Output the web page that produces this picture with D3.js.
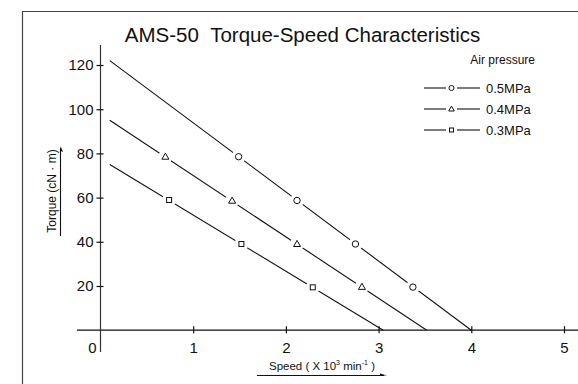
<!DOCTYPE html>
<html><head><meta charset="utf-8">
<script src="https://cdn.jsdelivr.net/npm/d3@7/dist/d3.min.js"></script>
<style>body{margin:0;background:#fff}svg{display:block;font-family:"Liberation Sans",Arial,Helvetica,sans-serif}text{white-space:pre}</style>
</head><body><svg id="c" width="578" height="384"></svg>
<script>
const seriesNames = ["0.5MPa", "0.4MPa", "0.3MPa"];
const seriesSymbols = ["circle", "triangle", "square"];
const lineSpeed = [[0.1, 4.0], [0.1, 3.52], [0.1, 3.05]];
const lineTorque = [[122, 0], [95, 0], [75, 0]];
const markerSpeed = [[1.49, 2.12, 2.75, 3.37], [0.70, 1.42, 2.12, 2.82], [0.74, 1.52, 2.29]];
const markerTorque = [[78.5, 58.7, 39.0, 19.5], [78.5, 58.6, 39.0, 19.6], [58.9, 39.0, 19.4]];
const xTicks = [0, 1, 2, 3, 4, 5];
const yTicks = [20, 40, 60, 80, 100, 120];

const svg = d3.select("#c");
const x = d3.scaleLinear().domain([0, 5]).range([100.5, 564]);
const y = d3.scaleLinear().domain([0, 120]).range([330.2, 65]);

// frame
svg.append("path").attr("d", "M22.5,384V11.5H578").attr("fill", "none").attr("stroke", "#444").attr("stroke-width", 1.2);

// title
svg.append("text").attr("x", 302.5).attr("y", 42).attr("text-anchor", "middle")
  .attr("font-size", 20.5).attr("fill", "#111").text("AMS-50\u00a0\u00a0Torque-Speed Characteristics");

// axes lines
svg.append("line").attr("x1", 77).attr("x2", 578).attr("y1", y(0)).attr("y2", y(0)).attr("stroke", "#111").attr("stroke-width", 1.2);
svg.append("line").attr("x1", x(0)).attr("x2", x(0)).attr("y1", 45).attr("y2", 352).attr("stroke", "#333").attr("stroke-width", 1.2);

// x axis ticks via d3 axis
const xa = svg.append("g").attr("transform", `translate(0,${y(0)})`)
  .call(d3.axisBottom(x).tickValues(xTicks).tickSize(4).tickPadding(8).tickFormat(d3.format("d")));
xa.select(".domain").remove();
xa.selectAll(".tick line").attr("y1", -4).attr("y2", 3).attr("stroke", "#111").attr("stroke-width", 1.2);
xa.selectAll(".tick").filter(d => d === 0).select("line").remove();
xa.selectAll(".tick").filter(d => d === 0).select("text").attr("text-anchor", "end").attr("x", -4.5);
xa.selectAll(".tick text").attr("font-size", 15).attr("font-family", "Liberation Sans, Arial, sans-serif").attr("fill", "#111").attr("dy", "0.71em");

// y axis ticks
const ya = svg.append("g").attr("transform", `translate(${x(0)},0)`)
  .call(d3.axisLeft(y).tickValues(yTicks).tickSize(4).tickPadding(3).tickFormat(d3.format("d")));
ya.select(".domain").remove();
ya.selectAll(".tick line").attr("x1", -4).attr("x2", 3).attr("stroke", "#111").attr("stroke-width", 1.2);
ya.selectAll(".tick text").attr("font-size", 15).attr("font-family", "Liberation Sans, Arial, sans-serif").attr("fill", "#111").attr("x", -7);

// symbols
function drawSymbol(g, type, cx, cy, s) {
  s = s || 1;
  if (type === "circle") {
    g.append("circle").attr("cx", cx).attr("cy", cy).attr("r", 3.2 * s).attr("fill", "#fff").attr("stroke", "#111").attr("stroke-width", 1);
  } else if (type === "triangle") {
    g.append("path").attr("d", `M${cx},${cy - 3.6 * s}L${cx + 3.5 * s},${cy + 2.5 * s}L${cx - 3.5 * s},${cy + 2.5 * s}Z`).attr("fill", "#fff").attr("stroke", "#111").attr("stroke-width", 1);
  } else {
    g.append("rect").attr("x", cx - 2.5 * s).attr("y", cy - 2.5 * s).attr("width", 5 * s).attr("height", 5 * s).attr("fill", "#fff").attr("stroke", "#111").attr("stroke-width", 1);
  }
}

const line = d3.line().x(d => x(d[0])).y(d => y(d[1]));
seriesNames.forEach((name, i) => {
  const g = svg.append("g");
  const pts = lineSpeed[i].map((s, j) => [s, lineTorque[i][j]]);
  g.append("path").attr("d", line(pts)).attr("fill", "none").attr("stroke", "#111").attr("stroke-width", 1.1);
  markerSpeed[i].forEach((s, j) => {
    const cx = x(s), cy = y(markerTorque[i][j]);
    g.append("circle").attr("cx", cx).attr("cy", cy).attr("r", 7).attr("fill", "#fff");
    drawSymbol(g, seriesSymbols[i], cx, cy);
  });
});

// legend
svg.append("text").attr("x", 535).attr("y", 64).attr("text-anchor", "end").attr("font-size", 12).attr("fill", "#111").text("Air pressure");
seriesNames.forEach((name, i) => {
  const ly = 88 + i * 21;
  const g = svg.append("g");
  g.append("line").attr("x1", 424).attr("x2", 446).attr("y1", ly).attr("y2", ly).attr("stroke", "#111").attr("stroke-width", 1.1);
  g.append("line").attr("x1", 457).attr("x2", 480).attr("y1", ly).attr("y2", ly).attr("stroke", "#111").attr("stroke-width", 1.1);
  drawSymbol(g, seriesSymbols[i], 451.5, ly, 0.8);
  g.append("text").attr("x", 486).attr("y", ly + 4.5).attr("font-size", 13).attr("fill", "#111").text(name);
});

// y label
const yl = svg.append("text").attr("transform", "translate(56,191) rotate(-90)").attr("text-anchor", "middle")
  .attr("font-size", 12).attr("fill", "#111");
yl.text("Torque (cN · m)");
svg.append("line").attr("x1", 60.5).attr("x2", 60.5).attr("y1", 236).attr("y2", 148).attr("stroke", "#111").attr("stroke-width", 1.1);
svg.append("path").attr("d", "M60.5,146L63,152L60.5,151Z").attr("fill", "#111");

// x label
const xl = svg.append("text").attr("x", 322).attr("y", 369.5).attr("text-anchor", "middle").attr("font-size", 11.5).attr("fill", "#111");
xl.append("tspan").text("Speed ( X 10");
xl.append("tspan").attr("font-size", 7).attr("dy", -5).text("3");
xl.append("tspan").attr("dy", 5).text(" min");
xl.append("tspan").attr("font-size", 7).attr("dy", -5).text("-1");
xl.append("tspan").attr("dy", 5).text(" )");
svg.append("line").attr("x1", 257).attr("x2", 384).attr("y1", 375.5).attr("y2", 375.5).attr("stroke", "#111").attr("stroke-width", 1.1);
svg.append("path").attr("d", "M387,375.5L380,373.5L380,375.5Z").attr("fill", "#111");
</script></body></html>
